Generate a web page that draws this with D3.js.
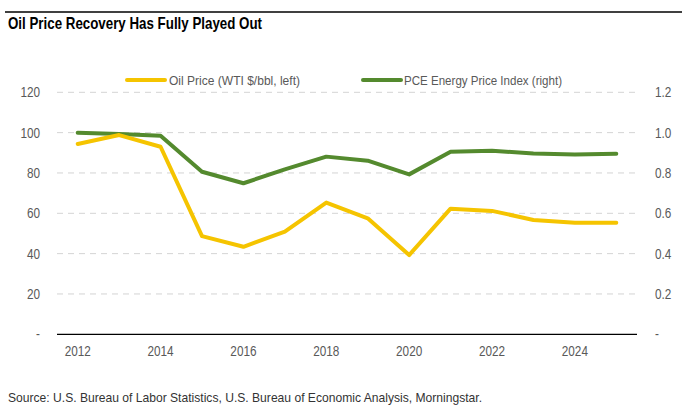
<!DOCTYPE html>
<html><head><meta charset="utf-8">
<script src="https://cdn.jsdelivr.net/npm/d3@7"></script>
<style>
html,body{margin:0;padding:0;background:#fff;}
svg{display:block;font-family:"Liberation Sans","Arial",sans-serif;}
</style></head>
<body>
<svg id="c" width="695" height="417"></svg>
<script>
const years = [2012,2013,2014,2015,2016,2017,2018,2019,2020,2021,2022,2023,2024,2025];
const oilPrice = [94.4,98.8,93.0,48.7,43.4,50.9,65.3,57.5,39.3,62.3,61.2,56.7,55.3,55.3];
const pceEnergy = [1.000,0.993,0.985,0.806,0.749,0.818,0.881,0.861,0.793,0.905,0.910,0.897,0.892,0.895];
const leftTicks = [0,20,40,60,80,100,120];
const rightTicks = [0,0.2,0.4,0.6,0.8,1.0,1.2];
const xTickLabels = [2012,2014,2016,2018,2020,2022,2024];
const seriesNames = ["Oil Price (WTI $/bbl, left)","PCE Energy Price Index (right)"];
const colors = ["#F5C400","#548A2E"];
const title = "Oil Price Recovery Has Fully Played Out";
const source = "Source: U.S. Bureau of Labor Statistics, U.S. Bureau of Economic Analysis, Morningstar.";

const svg = d3.select("#c");
const L = 57, R = 637, T = 92.3, B = 334.3;

svg.append("line").attr("x1",5).attr("x2",682).attr("y1",12).attr("y2",12)
  .attr("stroke","#000").attr("stroke-width",1.3);
svg.append("text").attr("x",8).attr("y",29).text(title)
  .attr("font-size",16.5).attr("font-weight","bold").attr("fill","#000")
  .attr("textLength",254).attr("lengthAdjust","spacingAndGlyphs");

const x = d3.scaleBand().domain(years).range([L,R]);
const yL = d3.scaleLinear().domain([0,120]).range([B,T]);
const yR = d3.scaleLinear().domain([0,1.2]).range([B,T]);

// gridlines
svg.append("g").selectAll("line").data(leftTicks.filter(d=>d>0)).join("line")
  .attr("x1",L).attr("x2",R).attr("y1",d=>yL(d)).attr("y2",d=>yL(d))
  .attr("stroke","#d4d4d4").attr("stroke-width",1).attr("stroke-dasharray","6,5");

function narrow(sel){
  sel.each(function(){
    const t = d3.select(this);
    const w = this.getComputedTextLength();
    t.attr("textLength", w*0.84).attr("lengthAdjust","spacingAndGlyphs");
  });
}

// left axis
const gl = svg.append("g").attr("transform",`translate(${L-17},0)`)
  .call(d3.axisLeft(yL).tickValues(leftTicks).tickSize(0).tickPadding(0)
    .tickFormat(d=>d===0?"-":d3.format("d")(d)));
gl.select(".domain").remove();
gl.selectAll("text").attr("font-size",14).attr("fill","#595959").attr("font-family",null).call(narrow);

// right axis
const gr = svg.append("g").attr("transform",`translate(${R+18},0)`)
  .call(d3.axisRight(yR).tickValues(rightTicks).tickSize(0).tickPadding(0)
    .tickFormat(d=>d===0?"-":d3.format(".1f")(d)));
gr.select(".domain").remove();
gr.selectAll("text").attr("font-size",14).attr("fill","#595959").attr("font-family",null).call(narrow);

// bottom axis
svg.append("line").attr("x1",L).attr("x2",R).attr("y1",B).attr("y2",B)
  .attr("stroke","#000").attr("stroke-width",1.3);
const gb = svg.append("g").attr("transform",`translate(0,${B})`)
  .call(d3.axisBottom(x).tickValues(xTickLabels).tickSize(0).tickPadding(12));
gb.select(".domain").remove();
gb.selectAll("text").attr("font-size",14).attr("fill","#595959").attr("font-family",null).call(narrow);

const cx = d => x(d)+x.bandwidth()/2;
const lineL = d3.line().x((d,i)=>cx(years[i])).y(d=>yL(d));
const lineR = d3.line().x((d,i)=>cx(years[i])).y(d=>yR(d));
svg.append("path").datum(pceEnergy).attr("d",lineR).attr("fill","none")
  .attr("stroke",colors[1]).attr("stroke-width",4).attr("stroke-linejoin","round").attr("stroke-linecap","round");
svg.append("path").datum(oilPrice).attr("d",lineL).attr("fill","none")
  .attr("stroke",colors[0]).attr("stroke-width",4).attr("stroke-linejoin","round").attr("stroke-linecap","round");

// legend
const legX = [127,363];
const legTextX = [169,404];
const legLen = [131,158];
seriesNames.forEach((n,i)=>{
  const g = svg.append("g");
  g.append("line").attr("x1",legX[i]).attr("x2",legX[i]+38).attr("y1",80).attr("y2",80)
    .attr("stroke",colors[i]).attr("stroke-width",4).attr("stroke-linecap","round");
  g.append("text").attr("x",legTextX[i]).attr("y",84.5).text(n)
    .attr("font-size",13.5).attr("fill","#595959")
    .attr("textLength",legLen[i]).attr("lengthAdjust","spacingAndGlyphs");
});

svg.append("text").attr("x",8).attr("y",402).text(source)
  .attr("font-size",13.5).attr("fill","#333")
  .attr("textLength",474).attr("lengthAdjust","spacingAndGlyphs");
</script>
</body></html>
